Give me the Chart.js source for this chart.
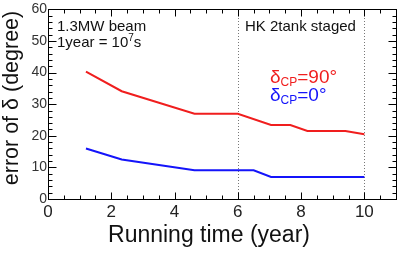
<!DOCTYPE html>
<html><head><meta charset="utf-8">
<script src="https://cdn.jsdelivr.net/npm/chart.js@4/dist/chart.umd.min.js"></script>
<style>html,body{margin:0;padding:0;background:#fff;}canvas{display:block;}</style>
</head><body>
<canvas id="c" width="399" height="253"></canvas>
<script>
const redX = [1.2, 2.33, 4.63, 6.0, 7.05, 7.66, 8.2, 9.4, 10.0];
const redY = [40.3, 34.1, 27.0, 27.0, 23.4, 23.4, 21.5, 21.5, 20.5];
const blueX = [1.2, 2.33, 4.63, 6.5, 7.05, 10.0];
const blueY = [16.0, 12.5, 9.1, 9.1, 7.0, 7.0];
const xTicks = [0, 2, 4, 6, 8, 10];
const yTicks = [0, 10, 20, 30, 40, 50, 60];
const dottedLinesX = [6, 10];

const FONT = "'Liberation Sans', Arial, Helvetica, sans-serif";
const RED = 'rgb(240,30,30)';
const BLUE = 'rgb(20,20,250)';

const decor = {
  id: 'decor',
  beforeDatasetsDraw(chart) {
    const ctx = chart.ctx, xs = chart.scales.x, ys = chart.scales.y;
    ctx.save();
    ctx.strokeStyle = '#777';
    ctx.lineWidth = 1;
    ctx.setLineDash([1, 2]);
    dottedLinesX.forEach(v => {
      const px = Math.round(xs.getPixelForValue(v)) + 0.5;
      ctx.beginPath();
      ctx.moveTo(px, ys.getPixelForValue(0));
      ctx.lineTo(px, ys.getPixelForValue(60));
      ctx.stroke();
    });
    ctx.restore();
  },
  afterDraw(chart) {
    const ctx = chart.ctx, xs = chart.scales.x, ys = chart.scales.y;
    const a = chart.chartArea;
    const L = Math.round(a.left) + 0.5, R = Math.round(a.right) + 0.5;
    const T = Math.round(a.top) + 0.5, B = Math.round(a.bottom) + 0.5;
    ctx.save();
    ctx.strokeStyle = '#000';
    ctx.lineWidth = 1;
    ctx.strokeRect(L, T, R - L, B - T);
    ctx.beginPath();
    for (let v = 0; v <= 11.0001; v += 0.5) {
      const px = Math.round(xs.getPixelForValue(v)) + 0.5;
      const major = Math.abs(v / 2 - Math.round(v / 2)) < 1e-6;
      const len = major ? 7 : 4;
      ctx.moveTo(px, B); ctx.lineTo(px, B - len);
      ctx.moveTo(px, T); ctx.lineTo(px, T + len);
    }
    for (let v = 0; v <= 60.0001; v += 2) {
      const py = Math.round(ys.getPixelForValue(v)) + 0.5;
      const major = Math.abs(v / 10 - Math.round(v / 10)) < 1e-6;
      const len = major ? 8 : 4;
      ctx.moveTo(L, py); ctx.lineTo(L + len, py);
      ctx.moveTo(R, py); ctx.lineTo(R - len, py);
    }
    ctx.stroke();

    ctx.fillStyle = '#111';
    ctx.font = '23px ' + FONT;
    ctx.textAlign = 'center';
    ctx.textBaseline = 'middle';
    ctx.fillText('Running time (year)', 209, 236);
    ctx.save();
    ctx.translate(12, 98);
    ctx.rotate(-Math.PI / 2);
    ctx.font = '21.5px ' + FONT;
    ctx.fillText('error of \u03b4 (degree)', 0, 0);
    ctx.restore();

    ctx.textAlign = 'left';
    ctx.textBaseline = 'alphabetic';
    ctx.font = '15px ' + FONT;
    ctx.fillStyle = '#111';
    ctx.fillText('1.3MW beam', 57, 31);
    let x = 57;
    const s1 = '1year = 10';
    ctx.fillText(s1, x, 47);
    x += ctx.measureText(s1).width;
    ctx.font = '10px ' + FONT;
    ctx.fillText('7', x, 41);
    x += ctx.measureText('7').width;
    ctx.font = '15px ' + FONT;
    ctx.fillText('s', x, 47);
    ctx.fillText('HK 2tank staged', 245, 31);

    function legend(txt, color, y) {
      let lx = 270;
      ctx.fillStyle = color;
      ctx.font = '19px ' + FONT;
      ctx.fillText('\u03b4', lx, y);
      lx += ctx.measureText('\u03b4').width;
      ctx.font = '12px ' + FONT;
      ctx.fillText('CP', lx, y + 3);
      lx += ctx.measureText('CP').width;
      ctx.font = '19px ' + FONT;
      ctx.fillText(txt, lx, y);
    }
    legend('=90\u00b0', RED, 83);
    legend('=0\u00b0', BLUE, 101);
    ctx.restore();
  }
};

new Chart(document.getElementById('c'), {
  type: 'scatter',
  data: {
    datasets: [
      { data: redX.map((v, i) => ({ x: v, y: redY[i] })), borderColor: RED, borderWidth: 2, showLine: true, pointRadius: 0, tension: 0 },
      { data: blueX.map((v, i) => ({ x: v, y: blueY[i] })), borderColor: BLUE, borderWidth: 2, showLine: true, pointRadius: 0, tension: 0 }
    ]
  },
  options: {
    responsive: false,
    animation: false,
    events: [],
    layout: { padding: { top: 7, right: 3, left: 0, bottom: 0 } },
    plugins: { legend: { display: false }, tooltip: { enabled: false } },
    scales: {
      x: {
        type: 'linear', min: 0, max: 11,
        afterBuildTicks: s => { s.ticks = xTicks.map(v => ({ value: v })); },
        afterFit: s => { s.height = 54; },
        grid: { display: false, drawTicks: false },
        border: { display: false },
        ticks: { font: { family: FONT, size: 17 }, color: '#222', padding: 3, maxRotation: 0, autoSkip: false }
      },
      y: {
        type: 'linear', min: 0, max: 60,
        afterBuildTicks: s => { s.ticks = yTicks.map(v => ({ value: v })); },
        afterFit: s => { s.width = 48; },
        grid: { display: false, drawTicks: false },
        border: { display: false },
        ticks: { font: { family: FONT, size: 14 }, color: '#333', padding: 1, autoSkip: false }
      }
    }
  },
  plugins: [decor]
});
</script>
</body></html>
